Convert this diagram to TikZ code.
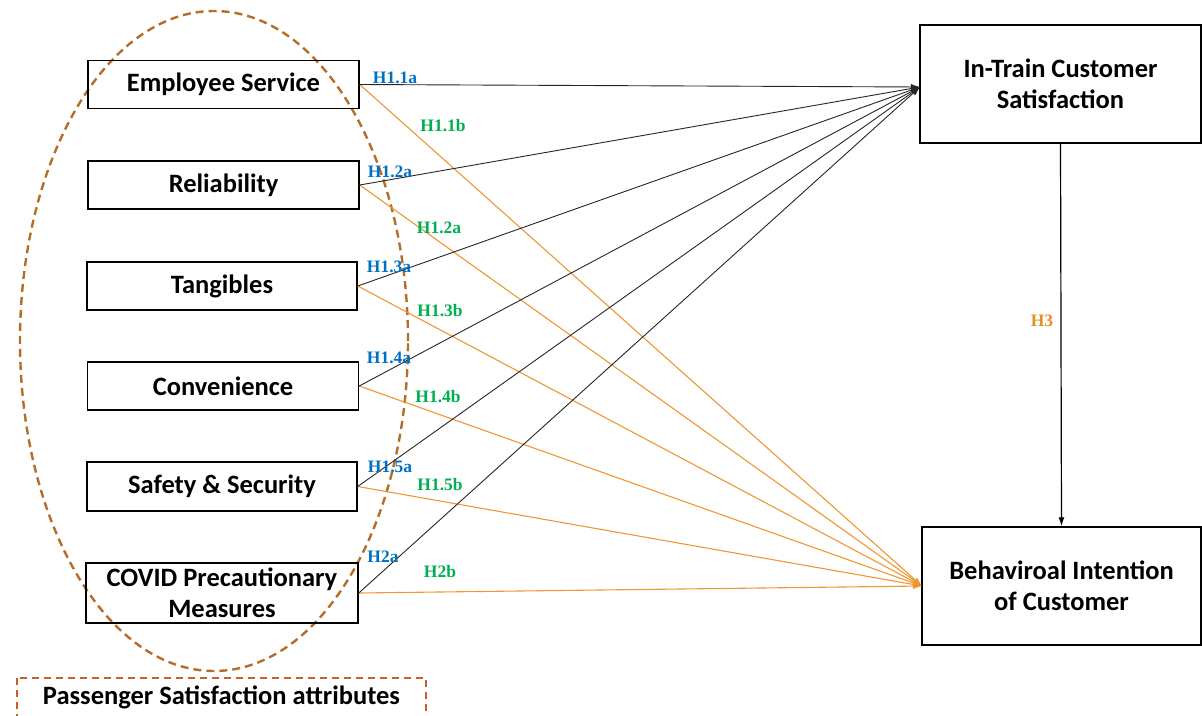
\documentclass[tikz,border=0pt]{standalone}
\usepackage{fontspec}
\setmainfont{Carlito}
\newfontfamily\tnr{Liberation Serif}
\usetikzlibrary{arrows.meta}
\definecolor{hblue}{RGB}{0,112,192}
\definecolor{hgreen}{RGB}{0,176,80}
\definecolor{lorange}{RGB}{240,150,50}
\definecolor{horange}{RGB}{230,140,40}
\definecolor{ebrown}{RGB}{180,110,40}
\definecolor{lred}{RGB}{200,95,40}
\tikzset{
  box/.style={draw=black, line width=1.5pt, inner sep=0pt, align=center,
    font=\fontsize{26.5}{31}\selectfont\bfseries},
  blk/.style={draw=black!85, line width=0.9pt, -{Latex[length=9pt,width=6pt]}},
  org/.style={draw=lorange, line width=1.1pt, -{Latex[length=9pt,width=6pt]}},
  hlab/.style={font=\tnr\fontsize{17.5}{20}\selectfont\bfseries, inner sep=0pt},
  hb/.style={hlab, text=hblue},
  hg/.style={hlab, text=hgreen},
}
\begin{document}
\begin{tikzpicture}[x=1pt,y=-1pt]
\useasboundingbox (0,0) rectangle (1202,715);
% ellipse and legend
\draw[ebrown, line width=2.4pt, dash pattern=on 8pt off 5pt] (214,341) ellipse [x radius=194pt, y radius=330pt];
\draw[lred, line width=2pt, dash pattern=on 7pt off 5pt] (17,678) rectangle (426,730);
\node[font=\fontsize{26.5}{31}\selectfont\bfseries, inner sep=0pt] (leg) at (221.5,697) {Passenger Satisfaction attributes};
% boxes
\node[box, minimum width=271pt, minimum height=48pt] (es) at (223.5,84.5) {Employee Service};
\node[box, minimum width=271pt, minimum height=48pt] (rel) at (223.5,185) {Reliability};
\node[box, minimum width=270pt, minimum height=48pt] (tan) at (222,286) {Tangibles};
\node[box, minimum width=271pt, minimum height=48pt] (con) at (223,386) {Convenience};
\node[box, minimum width=270pt, minimum height=49pt] (saf) at (222,486.5) {Safety \& Security};
\node[box, minimum width=272pt, minimum height=60pt] (cov) at (222,593) {COVID Precautionary\\Measures};
\node[box, minimum width=281pt, minimum height=118pt] (its) at (1060.5,84) {In-Train Customer\\Satisfaction};
\node[box, minimum width=279pt, minimum height=118pt] (bi) at (1061.5,586) {Behaviroal Intention\\of Customer};
\coordinate (itsin) at (920,87);
\coordinate (biin) at (922,586);
% connectors
\foreach \n in {es,rel,tan,con,saf,cov}{
  \draw[org] (\n.east) -- (biin);
}
\foreach \n in {es,rel,tan,con,saf,cov}{
  \draw[blk] (\n.east) -- (itsin);
}
\draw[line width=1.2pt, -{Latex[length=9pt,width=6pt]}] (its.south) -- (bi.north);
% labels
\node[hb] (l11a) at (395,78) {H1.1a};
\node[hg] (l11b) at (443,126) {H1.1b};
\node[hb] (l12a) at (390,172) {H1.2a};
\node[hg] (l12b) at (439,228) {H1.2a};
\node[hb] (l13a) at (389,267) {H1.3a};
\node[hg] (l13b) at (440,311) {H1.3b};
\node[hb] (l14a) at (389,358) {H1.4a};
\node[hg] (l14b) at (438,397) {H1.4b};
\node[hb] (l15a) at (390,467) {H1.5a};
\node[hg] (l15b) at (440,485) {H1.5b};
\node[hb] (l2a) at (383,557) {H2a};
\node[hg] (l2b) at (440,572) {H2b};
\node[hlab, text=horange] (l3) at (1042,321) {H3};
\end{tikzpicture}
\end{document}
